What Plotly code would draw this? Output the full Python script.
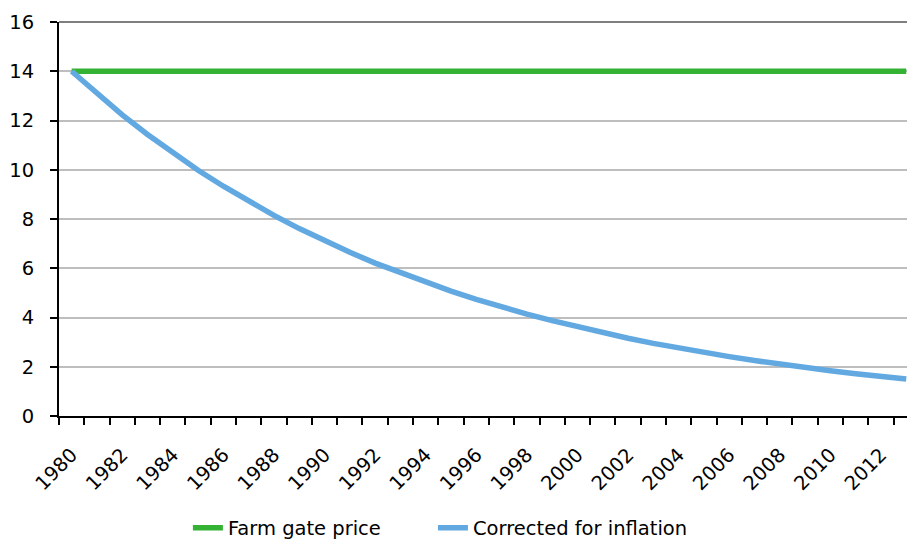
import plotly.graph_objects as go

years = list(range(1980, 2014))
farm_gate_price = [14.0] * 34
corrected_for_inflation = [
    14.00, 13.08, 12.23, 11.43, 10.68, 9.98, 9.33, 8.72, 8.15, 7.61,
    7.11, 6.65, 6.21, 5.81, 5.43, 5.07, 4.74, 4.43, 4.14, 3.87,
    3.62, 3.38, 3.16, 2.95, 2.76, 2.58, 2.41, 2.25, 2.10, 1.97,
    1.84, 1.72, 1.60, 1.50,
]
tick_years = list(range(1980, 2013, 2))
tick_labels = [str(y) for y in tick_years]
y_ticks = list(range(0, 17, 2))

FONT = "DejaVu Sans, Verdana, sans-serif"
FS = 19.5
fig = go.Figure()
fig.add_trace(go.Scatter(x=years, y=farm_gate_price, mode="lines",
                         name="Farm gate price", legend="legend",
                         line=dict(color="#34B233", width=5.5)))
fig.add_trace(go.Scatter(x=years, y=corrected_for_inflation, mode="lines",
                         name="Corrected for inflation", legend="legend2",
                         line=dict(color="#63A9E1", width=5.5)))

fig.add_shape(type="line", xref="paper", yref="paper", x0=0, x1=1, y0=1, y1=1,
              line=dict(color="#000000", width=1.2), layer="above")

leg_common = dict(orientation="h", xanchor="left", yref="container", y=0.024,
                  yanchor="middle", font=dict(family=FONT, size=FS),
                  bgcolor="rgba(0,0,0,0)", borderwidth=0)

fig.update_layout(
    width=907, height=541,
    margin=dict(l=59, r=0, t=22, b=125),
    paper_bgcolor="white", plot_bgcolor="white",
    font=dict(family=FONT, size=FS, color="#000000"),
    showlegend=True,
    legend=dict(x=0.152, **leg_common),
    legend2=dict(x=0.441, **leg_common),
    xaxis=dict(
        range=[1979.5, 2013.03],
        tickmode="array", tickvals=tick_years, ticktext=tick_labels,
        tickangle=-45, ticks="", ticklabelstandoff=18,
        showgrid=False, zeroline=False,
        showline=True, linecolor="#000000", linewidth=1.5,
        minor=dict(tickmode="array", tickvals=[y - 0.5 for y in years],
                   ticks="outside", ticklen=7, tickwidth=1.5, tickcolor="#000000",
                   showgrid=False),
        tickfont=dict(family=FONT, size=FS),
    ),
    yaxis=dict(
        range=[0, 16],
        tickmode="array", tickvals=y_ticks,
        ticks="outside", ticklen=7, tickwidth=1.5, tickcolor="#000000",
        ticklabelstandoff=12,
        showgrid=True, gridcolor="#BEBEBE", gridwidth=1.5,
        zeroline=False,
        showline=True, linecolor="#000000", linewidth=2,
        tickfont=dict(family=FONT, size=FS),
    ),
)

fig.write_html("out.html")
